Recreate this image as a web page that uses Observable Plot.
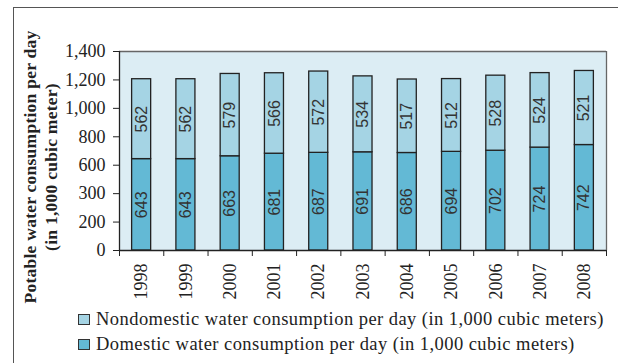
<!DOCTYPE html>
<html>
<head>
<meta charset="utf-8">
<script src="https://cdn.jsdelivr.net/npm/d3@7"></script>
<script src="https://cdn.jsdelivr.net/npm/@observablehq/plot@0.6"></script>
<style>
  html, body { margin: 0; padding: 0; background: #fff; }
  #wrap { position: relative; width: 618px; height: 363px; overflow: hidden; font-family: "Liberation Serif", serif; color: #222; }
  #frame { position: absolute; left: 13px; top: 7px; right: -2px; bottom: -2px; border-top: 1.5px solid #555; border-left: 1.5px solid #555; }
  #chart { position: absolute; left: 0; top: 0; }
  #ytitle { position: absolute; width: 320px; height: 42px; line-height: 21px; text-align: center; font-weight: bold; font-size: 17.5px; letter-spacing: 0.25px;
            transform: rotate(-90deg); transform-origin: 50% 50%; white-space: nowrap; }
  .leg { position: absolute; left: 78px; height: 20px; display: flex; align-items: center; font-size: 18.5px; letter-spacing: 0.45px; line-height: 20px; white-space: nowrap; }
  .sw { width: 10px; height: 9px; border: 1.3px solid #333; margin-right: 6px; flex: none; }
</style>
</head>
<body>
<div id="wrap">
  <div id="frame"></div>
  <div id="chart"></div>
  <div id="ytitle"></div>
  <div id="legend"></div>
</div>
<script>
const years = [1998, 1999, 2000, 2001, 2002, 2003, 2004, 2005, 2006, 2007, 2008];
const domestic = [643, 643, 663, 681, 687, 691, 686, 694, 702, 724, 742];
const nondomestic = [562, 562, 579, 566, 572, 534, 517, 512, 528, 524, 521];
const yTicks = [0, 200, 400, 600, 800, 1000, 1200, 1400];
const yTickLabels = ["0", "200", "300", "600", "800", "1,000", "1,200", "1,400"];
const seriesKeys = ["Nondomestic", "Domestic"];
const seriesLabels = [
  "Nondomestic water consumption per day (in 1,000 cubic meters)",
  "Domestic water consumption per day (in 1,000 cubic meters)"
];
const seriesColors = ["#a5d4e4", "#63b9d5"];
const yTitleLines = ["Potable water consumption per day", "(in 1,000 cubic meter)"];

const rows = [];
years.forEach((yr, i) => {
  rows.push({year: yr, series: "Domestic", y1: 0, y2: domestic[i], value: domestic[i]});
  rows.push({year: yr, series: "Nondomestic", y1: domestic[i], y2: domestic[i] + nondomestic[i], value: nondomestic[i]});
});
const xDomain = [years[0] - 0.5, years[years.length - 1] + 0.5];
const edges = years.map(y => y - 0.5).concat([xDomain[1]]);
const halfBar = 0.215;

const chart = Plot.plot({
  width: 618,
  height: 318,
  marginLeft: 119,
  marginRight: 12,
  marginTop: 51,
  marginBottom: 68,
  style: {fontFamily: "Liberation Serif", fontSize: "18px", color: "#222", background: "transparent", overflow: "visible"},
  x: {type: "linear", domain: xDomain},
  y: {domain: [yTicks[0], yTicks[yTicks.length - 1]]},
  color: {domain: seriesKeys, range: seriesColors},
  marks: [
    Plot.frame({fill: "#dcedf4", stroke: null}),
    Plot.ruleY([yTicks[yTicks.length - 1]], {stroke: "#666", strokeWidth: 1.3}),
    Plot.ruleX([xDomain[1]], {stroke: "#666", strokeWidth: 1.3}),
    Plot.rectY(rows, {x1: d => d.year - halfBar, x2: d => d.year + halfBar, y1: "y1", y2: "y2", fill: "series", stroke: "#222", strokeWidth: 1.3}),
    Plot.text(rows, {x: "year", y: d => (d.y1 + d.y2) / 2, text: d => String(d.value), rotate: -90, fontFamily: "Liberation Sans", fontSize: 16, fill: "#333"}),
    Plot.axisY({ticks: yTicks, tickFormat: d => yTickLabels[yTicks.indexOf(d)], tickSize: 6, tickPadding: 8, label: null, fontSize: 18, stroke: "#222"}),
    Plot.axisX({ticks: edges, tickFormat: () => "", tickSize: 6, label: null, stroke: "#222"}),
    Plot.axisX({ticks: years, tickFormat: d => String(d), tickSize: 0, tickPadding: 13, tickRotate: -90, label: null, fontSize: 18}),
    Plot.ruleX([xDomain[0]], {stroke: "#222", strokeWidth: 1.3}),
    Plot.ruleY([0], {stroke: "#222", strokeWidth: 1.3})
  ]
});
document.getElementById("chart").appendChild(chart);

const yt = document.getElementById("ytitle");
yt.innerHTML = yTitleLines.map(s => `<div>${s}</div>`).join("");
yt.style.left = (40.5 - 160) + "px";
yt.style.top = (167 - 21) + "px";

const leg = document.getElementById("legend");
const legTops = [309, 334];
seriesLabels.forEach((lab, i) => {
  const r = document.createElement("div");
  r.className = "leg";
  r.style.top = legTops[i] + "px";
  r.innerHTML = `<span class="sw" style="background:${seriesColors[i]}"></span><span>${lab}</span>`;
  leg.appendChild(r);
});
</script>
</body>
</html>
